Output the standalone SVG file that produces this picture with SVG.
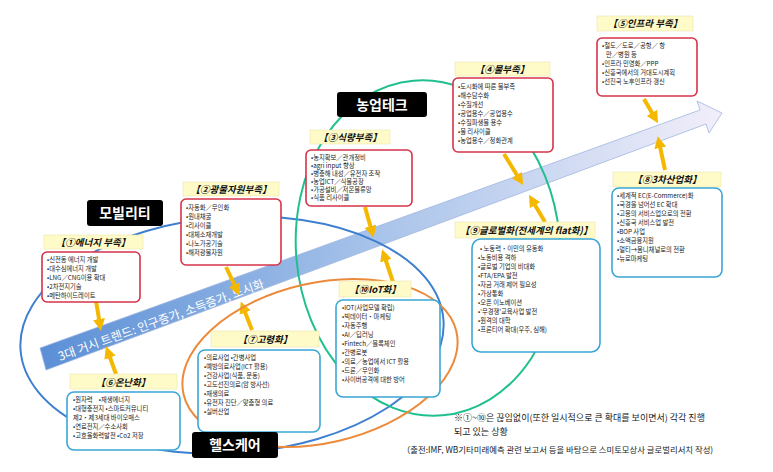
<svg xmlns="http://www.w3.org/2000/svg" width="773" height="472" viewBox="0 0 773 472">
<defs>
<linearGradient id="ag" x1="0" y1="0" x2="1" y2="0">
<stop offset="0" stop-color="#5b8fd6"/><stop offset="0.5" stop-color="#a9c4ea"/><stop offset="1" stop-color="#f2eefa"/>
</linearGradient>
<marker id="ya" viewBox="0 0 10 10" refX="5" refY="5" markerWidth="3" markerHeight="3" orient="auto"><path d="M0,0L10,5L0,10z" fill="#f5b800"/></marker>
</defs>
<style>
text{font-family:"Noto Sans CJK KR","Noto Sans",sans-serif;}
.lb{fill:#fffbc8;stroke:#e8e0a0;stroke-width:0.5}
.lt{font-size:9.5px;font-weight:bold;font-style:italic;fill:#111}
.rb{fill:#fff;stroke:#d6334a;stroke-width:1.6}
.bb{fill:#fff;stroke:#3aa7d4;stroke-width:1.6}
.it{font-size:6.3px;fill:#222}
.blk{fill:#000}
.bt{font-size:14px;font-weight:bold;fill:#fff}
.ya{stroke:#f5b800;stroke-width:4;fill:none;marker-end:url(#ya)}
.nt{font-size:9px;fill:#222}
</style>
<rect width="773" height="472" fill="#fff"/>

<g id="connectors">
<polygon points="40,348 700,110 697,101 722,113 709,133 706,124 46,370" fill="url(#ag)" stroke="#9fb6e0" stroke-width="0.8"/>
<text transform="translate(60,361) rotate(-19.8)" font-size="12" fill="#fff">3대 거시 트렌드: 인구증가, 소득증가, 도시화</text>
<line class="ya" x1="644" y1="99" x2="655" y2="118"/>
<line class="ya" x1="665" y1="170" x2="659" y2="142"/>
<line class="ya" x1="504" y1="154" x2="520" y2="180"/>
<line class="ya" x1="545" y1="222" x2="532" y2="200"/>
<line class="ya" x1="365" y1="207" x2="372" y2="232"/>
<line class="ya" x1="393" y1="282" x2="384" y2="255"/>
<line class="ya" x1="226" y1="267" x2="237" y2="290"/>
<line class="ya" x1="252" y1="330" x2="243" y2="307"/>
<line class="ya" x1="96" y1="301" x2="100" y2="325"/>
<line class="ya" x1="116" y1="374" x2="108" y2="352"/>
<ellipse cx="232" cy="335" rx="212" ry="118" transform="rotate(-4 232 335)" fill="none" stroke="#3f7fd0" stroke-width="2"/>
<ellipse cx="428" cy="248" rx="132" ry="168" transform="rotate(-5 428 248)" fill="none" stroke="#1fbf8f" stroke-width="2"/>
<ellipse cx="320" cy="363" rx="140" ry="80" transform="rotate(-13 320 363)" fill="none" stroke="#ec8a3c" stroke-width="2"/>
</g>

<g id="n5"><rect class="lb" x="597" y="16" width="96" height="15"/><text class="lt" x="645" y="27" text-anchor="middle">【⑤인프라 부족】</text>
<rect class="rb" x="597" y="38" width="100" height="58" rx="5"/>
<text class="it" x="602" y="48">•철도／도로／공항／ 항</text><text class="it" x="606" y="57">만／병원 등</text><text class="it" x="602" y="66">•인프라 민영화／PPP</text><text class="it" x="602" y="75">•신흥국에서의 거대도시계획</text><text class="it" x="602" y="84">•선진국 노후인프라 갱신</text></g>

<g id="n4"><rect class="lb" x="455" y="62" width="95" height="14"/><text class="lt" x="502" y="73" text-anchor="middle">【④물부족】</text>
<rect class="rb" x="453" y="78" width="100" height="74" rx="5"/>
<text class="it" x="458" y="89">•도시화에 따른 물부족</text><text class="it" x="458" y="98">•해수담수화</text><text class="it" x="458" y="107">•수질개선</text><text class="it" x="458" y="116">•공업용수／공업용수</text><text class="it" x="458" y="125">•수질파생물 용수</text><text class="it" x="458" y="134">•물 리사이클</text><text class="it" x="458" y="143">•농업용수／정화관계</text></g>

<g id="n3"><rect class="lb" x="310" y="130" width="80" height="14"/><text class="lt" x="350" y="141" text-anchor="middle">【③식량부족】</text>
<rect class="rb" x="306" y="150" width="106" height="56" rx="5"/>
<text class="it" x="311" y="160">•농지확보／관개정비</text><text class="it" x="311" y="168">•agri input 향상</text><text class="it" x="311" y="176">•병충해 내성／유전자 조작</text><text class="it" x="311" y="184">•농업ICT／식물공장</text><text class="it" x="311" y="192">•가공설비／저온물류망</text><text class="it" x="311" y="200">•식품 리사이클</text></g>

<g id="n2"><rect class="lb" x="183" y="182" width="96" height="14"/><text class="lt" x="231" y="193" text-anchor="middle">【②광물자원부족】</text>
<rect class="rb" x="181" y="199" width="100" height="66" rx="5"/>
<text class="it" x="186" y="210">•자동화／무인화</text><text class="it" x="186" y="219">•원내채굴</text><text class="it" x="186" y="228">•리사이클</text><text class="it" x="186" y="237">•대체소재개발</text><text class="it" x="186" y="246">•나노가공기술</text><text class="it" x="186" y="255">•해저광물자원</text></g>

<g id="n1"><rect class="lb" x="44" y="235" width="99" height="14"/><text class="lt" x="93" y="246" text-anchor="middle">【①에너지 부족】</text>
<rect class="rb" x="42" y="252" width="98" height="50" rx="5"/>
<text class="it" x="47" y="262">•신전동 에너지 개발</text><text class="it" x="47" y="271">•대수심에너지 개발</text><text class="it" x="47" y="280">•LNG／CNG이용 확대</text><text class="it" x="47" y="289">•2차전지기술</text><text class="it" x="47" y="298">•메탄하이드레이트</text></g>

<g id="n8"><rect class="lb" x="613" y="172" width="108" height="15"/><text class="lt" x="667" y="183" text-anchor="middle">【⑧3차산업화】</text>
<rect class="bb" x="612" y="188" width="110" height="89" rx="7"/>
<text class="it" x="617" y="198">•세계적 EC(E-Commerce)화</text><text class="it" x="617" y="207">•국경을 넘어선 EC 확대</text><text class="it" x="617" y="216">•고용의 서비스업으로의 전환</text><text class="it" x="617" y="225">•신흥국 서비스업 발전</text><text class="it" x="617" y="234">•BOP 사업</text><text class="it" x="617" y="243">•소액금융지원</text><text class="it" x="617" y="252">•멀티→옴니채널로의 전환</text><text class="it" x="617" y="261">•뉴로마케팅</text></g>

<g id="n9"><rect class="lb" x="455" y="222" width="140" height="16"/><text class="lt" x="460" y="234">【⑨글로벌화(전세계의 flat화)】</text>
<rect class="bb" x="472" y="239" width="128" height="113" rx="9"/>
<text class="it" x="480" y="251">• 노동력・이민의 유동화</text><text class="it" x="478" y="260">•노동비용 격하</text><text class="it" x="478" y="269">•글로벌 기업의 비대화</text><text class="it" x="478" y="278">•FTA/EPA 발전</text><text class="it" x="478" y="287">•자금 거래 제어 필요성</text><text class="it" x="478" y="296">•가상통화</text><text class="it" x="478" y="305">•오픈 이노베이션</text><text class="it" x="478" y="314">•‘무경쟁’교육사업 발전</text><text class="it" x="478" y="323">•원격의 대학</text><text class="it" x="478" y="332">•프론티어 확대(우주, 심해)</text></g>

<g id="n10"><rect class="lb" x="339" y="281" width="72" height="16"/><text class="lt" x="375" y="293" text-anchor="middle">【⑩IoT화】</text>
<rect class="bb" x="336" y="300" width="104" height="97" rx="7"/>
<text class="it" x="342" y="310">•IOT(사업모델 확립)</text><text class="it" x="342" y="319">•빅데이터・마케팅</text><text class="it" x="342" y="328">•자동주행</text><text class="it" x="342" y="337">•AI／딥러닝</text><text class="it" x="342" y="346">•Fintech／블록체인</text><text class="it" x="342" y="355">•간병로봇</text><text class="it" x="342" y="364">•의료／농업에서 ICT 활용</text><text class="it" x="342" y="373">•드론／무인화</text><text class="it" x="342" y="382">•사이버공격에 대한 방어</text></g>

<g id="n7"><rect class="lb" x="211" y="331" width="108" height="16"/><text class="lt" x="265" y="343" text-anchor="middle">【⑦고령화】</text>
<rect class="bb" x="198" y="350" width="122" height="82" rx="7"/>
<text class="it" x="204" y="360">•의료사업 •간병사업</text><text class="it" x="204" y="369">•예방의료사업(ICT 활용)</text><text class="it" x="204" y="378">•건강사업(식품, 운동)</text><text class="it" x="204" y="387">•고도선진의료(암 방사선)</text><text class="it" x="204" y="396">•재생의료</text><text class="it" x="204" y="405">•유전자 진단／맞춤형 의료</text><text class="it" x="204" y="414">•실버산업</text></g>

<g id="n6"><rect class="lb" x="70" y="374" width="107" height="15"/><text class="lt" x="123" y="386" text-anchor="middle">【⑥온난화】</text>
<rect class="bb" x="67" y="392" width="113" height="58" rx="7"/>
<text class="it" x="73" y="402">•원자력　•재생에너지</text><text class="it" x="73" y="411">•대형충전지 •스마트커뮤니티</text><text class="it" x="73" y="420">제2・제3세대 바이오매스</text><text class="it" x="73" y="429">•연료전지／수소사회</text><text class="it" x="73" y="438">•고효율화력발전 •Co2 저장</text></g>

<g id="mobility"><rect class="blk" x="87" y="200" width="76" height="26" rx="3"/><text class="bt" x="125" y="218" text-anchor="middle">모빌리티</text></g>
<g id="agritech"><rect class="blk" x="337" y="92" width="90" height="25" rx="3"/><text class="bt" x="382" y="110" text-anchor="middle">농업테크</text></g>
<g id="healthcare"><rect class="blk" x="192" y="432" width="86" height="26" rx="3"/><text class="bt" x="235" y="450" text-anchor="middle">헬스케어</text></g>

<g id="notes">
<text class="nt" x="454" y="421">※①~⑩은 끊임없이(또한 일시적으로 큰 확대를 보이면서) 각각 진행</text>
<text class="nt" x="454" y="435">되고 있는 상황</text>
<text x="402" y="453" font-size="8.4" fill="#222">（출전:IMF, WB기타미래예측 관련 보고서 등을 바탕으로 스미토모상사 글로벌리서치 작성)</text>
</g>
</svg>
